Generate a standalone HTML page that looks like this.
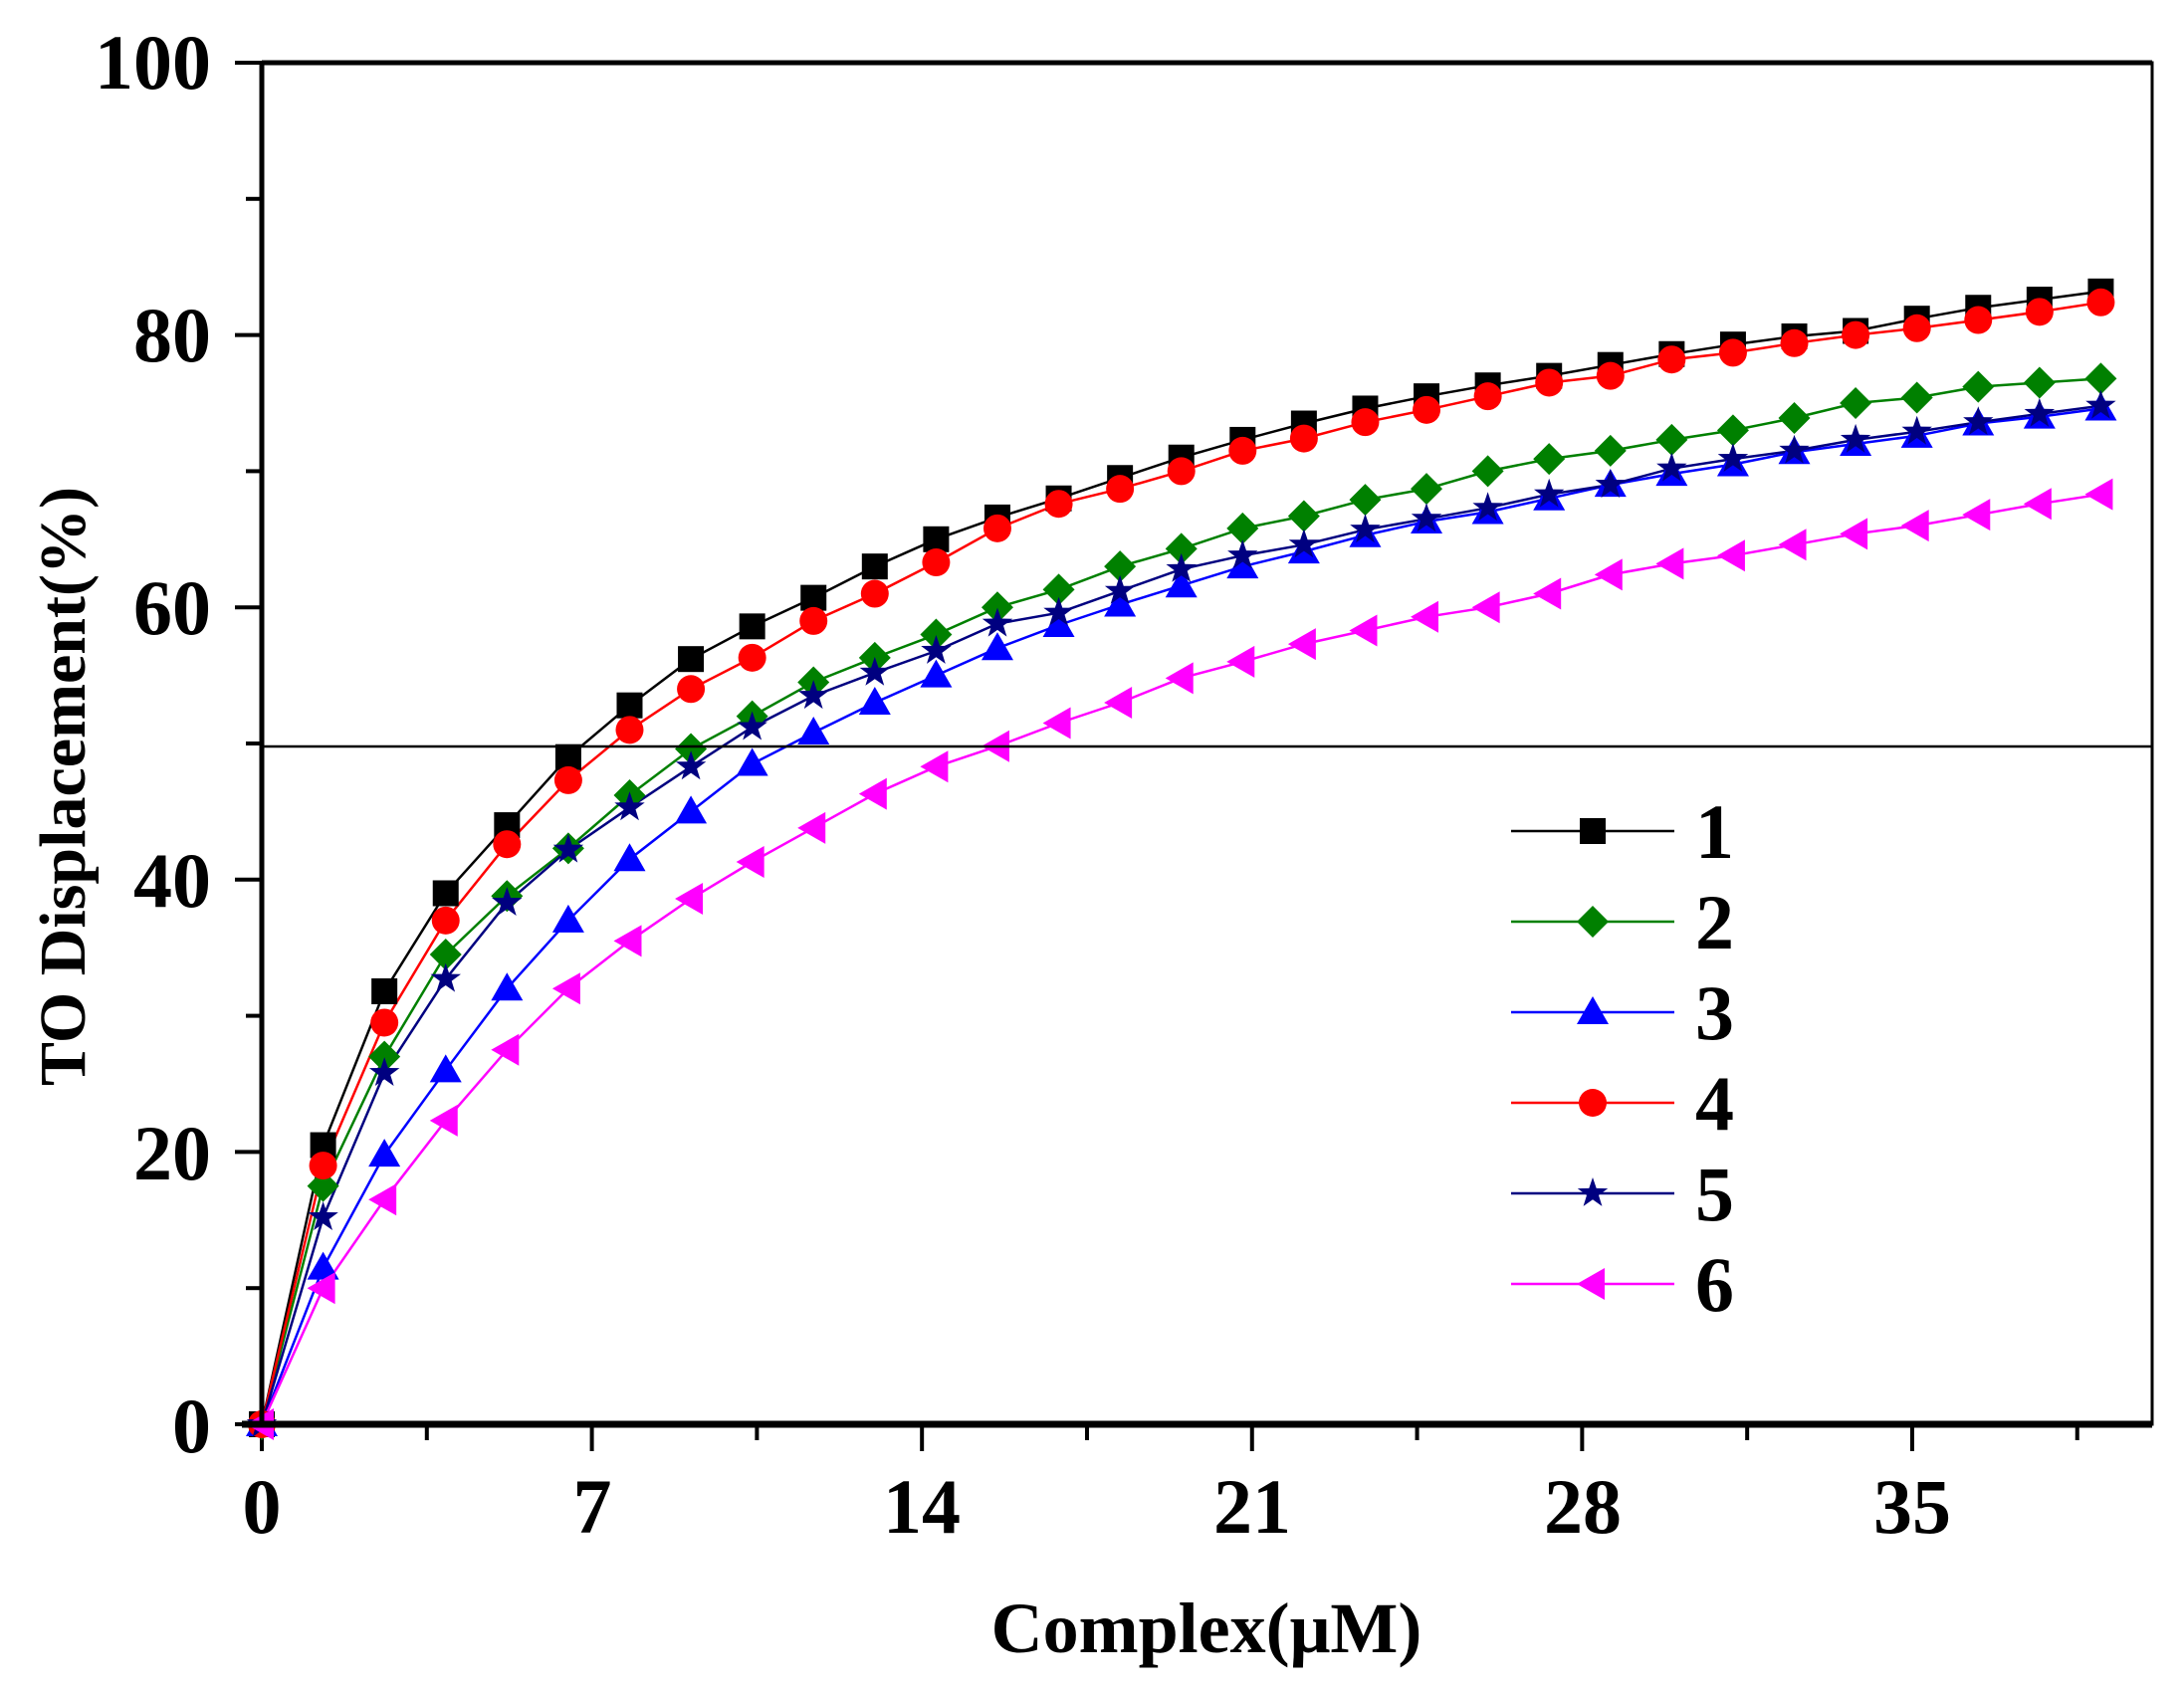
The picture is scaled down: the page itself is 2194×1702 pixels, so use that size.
<!DOCTYPE html>
<html><head><meta charset="utf-8"><style>
html,body{margin:0;padding:0;background:#fff;}
svg{display:block;}
text{font-family:"Liberation Serif",serif;font-weight:bold;fill:#000;}
</style></head><body>
<svg id="s" width="2194" height="1702" viewBox="0 0 2194 1702" xmlns="http://www.w3.org/2000/svg">
<rect width="2194" height="1702" fill="#fff"/>
<g id="ax"></g>
<g id="data"></g>
<line x1="263" y1="750" x2="2162" y2="750" stroke="#000" stroke-width="2.5"/>
<rect x="263" y="63" width="1899" height="1368" fill="none" stroke="#000" stroke-width="3"/>
<line x1="263" y1="63" x2="2162" y2="63" stroke="#000" stroke-width="5"/>
<line x1="263" y1="61" x2="263" y2="1433" stroke="#000" stroke-width="5"/>
<line x1="243" y1="1431" x2="2162" y2="1431" stroke="#000" stroke-width="7"/>
<g font-size="78" text-anchor="end">
<text x="212" y="89">100</text><text x="212" y="363">80</text><text x="212" y="637">60</text>
<text x="212" y="911">40</text><text x="212" y="1185">20</text><text x="212" y="1459">0</text>
</g>
<g font-size="78" text-anchor="middle">
<text x="263" y="1540">0</text><text x="595" y="1540">7</text><text x="926" y="1540">14</text>
<text x="1258" y="1540">21</text><text x="1590" y="1540">28</text><text x="1921" y="1540">35</text>
</g>
<text x="1212" y="1660" font-size="72" text-anchor="middle">Complex(μM)</text>
<text transform="translate(85,790) rotate(-90)" font-size="66" text-anchor="middle">TO Displacement(%)</text>
<g id="leg"></g>
</svg>
<script>
const NS="http://www.w3.org/2000/svg";
function el(p,t,a){const e=document.createElementNS(NS,t);for(const k in a)e.setAttribute(k,a[k]);p.appendChild(e);return e;}
const ax=document.getElementById('ax');
const X=v=>263+v*47.37, Y=v=>1431-v*13.68;
for(let v=0;v<=100;v+=10){const maj=v%20==0;el(ax,'line',{x1:263-(maj?27:16),x2:263,y1:Y(v),y2:Y(v),stroke:'#000','stroke-width':4});}
for(let v=0;v<=39;v+=3.5){const maj=Math.abs(v/7-Math.round(v/7))<1e-6;el(ax,'line',{x1:X(v),x2:X(v),y1:1431,y2:1431+(maj?27:16),stroke:'#000','stroke-width':4});}
const S=[
{c:'#000',m:'sq',d:[0,20.5,31.8,39,44,49,52.8,56.2,58.6,60.7,63,65,66.6,68,69.5,71,72.3,73.5,74.6,75.5,76.3,77,77.8,78.6,79.3,79.9,80.3,81.2,82,82.6,83.2]},
{c:'#008000',m:'di',d:[0,17.5,27,34.5,38.8,42.3,46.2,49.6,52,54.5,56.3,58,60,61.3,63,64.3,65.8,66.7,67.9,68.7,70,70.9,71.5,72.3,73,73.9,75,75.4,76.2,76.5,76.8]},
{c:'#0000ff',m:'tu',d:[0,11.5,19.8,26,32,37,41.5,45,48.5,50.8,53,55,57,58.7,60.2,61.6,63,64.1,65.3,66.3,67,68,69,69.8,70.5,71.4,72,72.6,73.5,74,74.6]},
{c:'#ff0000',m:'ci',d:[0,19,29.5,37,42.6,47.3,51,54,56.3,59,61,63.3,65.8,67.6,68.7,70,71.5,72.4,73.6,74.5,75.5,76.5,77,78.2,78.7,79.4,80,80.5,81.1,81.7,82.4]},
{c:'#000080',m:'st',d:[0,15.2,25.8,32.7,38.3,42.2,45.3,48.3,51.2,53.5,55.2,56.8,58.8,59.6,61.2,62.8,63.8,64.6,65.7,66.5,67.3,68.3,69,70.2,70.9,71.5,72.3,72.9,73.6,74.2,74.8]},
{c:'#ff00ff',m:'tl',d:[0,10,16.5,22.3,27.5,32,35.5,38.6,41.3,43.8,46.3,48.3,49.8,51.5,53,54.8,56,57.3,58.3,59.3,60,61,62.4,63.2,63.8,64.6,65.4,66,66.8,67.6,68.3]}];
function mk(g,m,x,y,c){const r=14;
 if(m=='sq')el(g,'rect',{x:x-r+1,y:y-r+1,width:2*r-2,height:2*r-2,fill:c});
 else if(m=='ci')el(g,'circle',{cx:x,cy:y,r:r,fill:c});
 else if(m=='di')el(g,'polygon',{points:`${x},${y-r-2} ${x+r+2},${y} ${x},${y+r+2} ${x-r-2},${y}`,fill:c});
 else if(m=='tu')el(g,'polygon',{points:`${x},${y-r-2} ${x+r+2},${y+r-2} ${x-r-2},${y+r-2}`,fill:c});
 else if(m=='tl')el(g,'polygon',{points:`${x-r-2},${y} ${x+r-2},${y-r-2} ${x+r-2},${y+r+2}`,fill:c});
 else if(m=='st'){let p=[];for(let i=0;i<10;i++){const a=-Math.PI/2+i*Math.PI/5,rr=i%2?r*0.45:r+2;p.push((x+rr*Math.cos(a)).toFixed(1)+','+(y+rr*Math.sin(a)).toFixed(1));}el(g,'polygon',{points:p.join(' '),fill:c});}
}
const dg=document.getElementById('data');
S.forEach(s=>{const pts=s.d.map((v,i)=>X(i*1.3).toFixed(1)+','+Y(v).toFixed(1));
 el(dg,'polyline',{points:pts.join(' '),fill:'none',stroke:s.c,'stroke-width':2.5});});
S.forEach(s=>{s.d.forEach((v,i)=>mk(dg,s.m,X(i*1.3),Y(v),s.c));});
const lg=document.getElementById('leg');
S.forEach((s,i)=>{const y=835+i*91;
 el(lg,'line',{x1:1518,x2:1682,y1:y,y2:y,stroke:s.c,'stroke-width':2.5});
 mk(lg,s.m,1600,y,s.c);
 const t=el(lg,'text',{x:1703,y:y+27,'font-size':'78'});t.textContent=String(i+1);});
</script>
</body></html>
